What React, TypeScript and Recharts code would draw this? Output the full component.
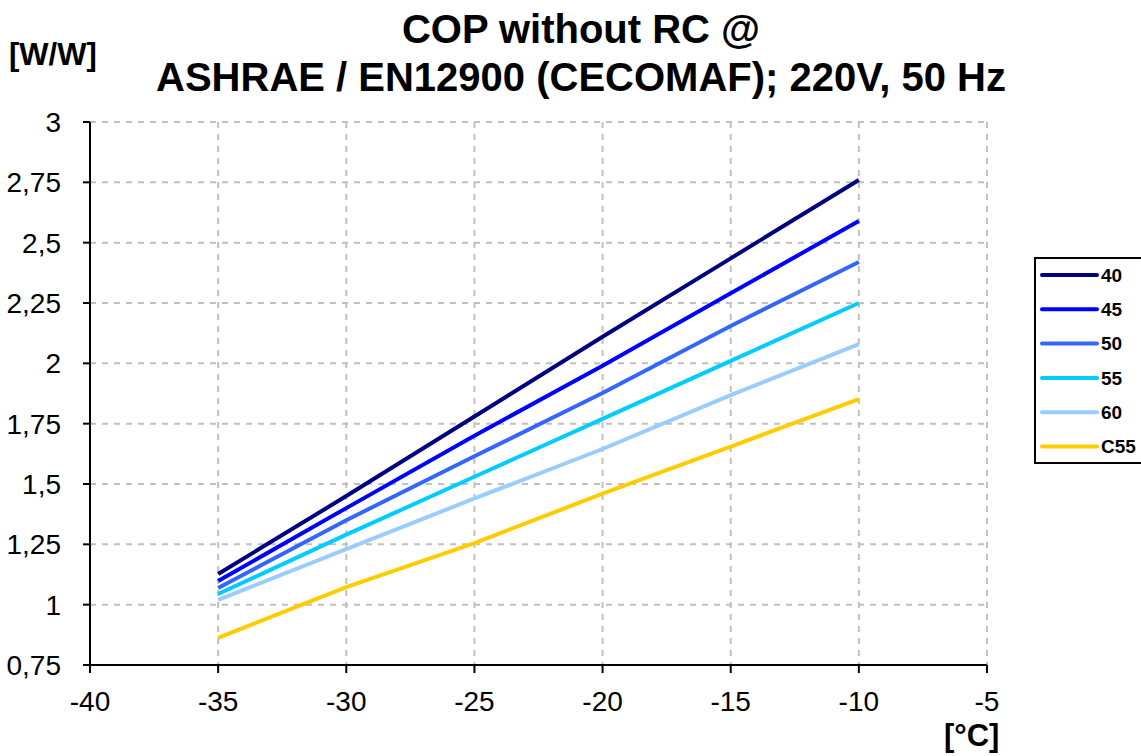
import React from "react"
import { LineChart, Line, XAxis, YAxis, CartesianGrid } from "recharts"

const temps = [-35, -30, -25, -20, -15, -10]
const cop40 = [1.127, 1.45, 1.78, 2.11, 2.435, 2.76]
const cop45 = [1.098, 1.4, 1.7, 1.99, 2.29, 2.59]
const cop50 = [1.069, 1.35, 1.615, 1.877, 2.155, 2.42]
const cop55 = [1.044, 1.29, 1.53, 1.77, 2.01, 2.25]
const cop60 = [1.02, 1.23, 1.44, 1.645, 1.868, 2.08]
const copC55 = [0.862, 1.073, 1.255, 1.46, 1.655, 1.852]

const seriesNames = ["40", "45", "50", "55", "60", "C55"]
const seriesColors = ["#000080", "#0000ff", "#3366ff", "#00ccff", "#99ccff", "#ffcc00"]
const seriesValues = [cop40, cop45, cop50, cop55, cop60, copC55]

const xTicks = [-40, -35, -30, -25, -20, -15, -10, -5]
const yTicks = [0.75, 1, 1.25, 1.5, 1.75, 2, 2.25, 2.5, 2.75, 3]

const data = temps.map((t, i) => {
  const row: Record<string, number> = { t }
  seriesNames.forEach((n, k) => (row[n] = seriesValues[k][i]))
  return row
})

const FONT = "'Liberation Sans', Arial, sans-serif"

// legend drawn beside the plot, like the excel one (box runs off the right edge)
const LegendBox = () => (
  <svg width={110} height={210} style={{ position: "absolute", left: 1034, top: 257 }}>
    <rect x={1} y={1} width={120} height={205} fill="#fff" stroke="#000" strokeWidth={2} />
    {seriesNames.map((n, i) => (
      <g key={n}>
        <line x1={8} x2={63} y1={18 + i * 34.3} y2={18 + i * 34.3} stroke={seriesColors[i]} strokeWidth={4} strokeLinecap="round" />
        <text x={67} y={18 + i * 34.3} dy="0.36em" fontSize={19} fontWeight="bold" fontFamily={FONT} fill="#000">
          {n}
        </text>
      </g>
    ))}
  </svg>
)

export default function App() {
  return (
    <div style={{ position: "absolute", left: 0, top: 0, width: 1141, height: 756, background: "#fff", fontFamily: FONT }}>
      <LineChart width={1141} height={756} data={data} margin={{ top: 122, right: 154, left: 10, bottom: 51 }}>
        <CartesianGrid stroke="#c0c0c0" strokeWidth={2} strokeDasharray="6 6" />
        <XAxis
          dataKey="t"
          type="number"
          domain={[-40, -5]}
          ticks={xTicks}
          height={40}
          tickSize={8}
          tickMargin={18}
          axisLine={{ stroke: "#000", strokeWidth: 2 }}
          tickLine={{ stroke: "#000", strokeWidth: 2 }}
          tick={{ fill: "#000", fontSize: 28, fontFamily: FONT }}
        />
        <YAxis
          type="number"
          domain={[0.75, 3]}
          ticks={yTicks}
          width={80}
          tickSize={7}
          tickMargin={22}
          axisLine={{ stroke: "#000", strokeWidth: 2 }}
          tickLine={{ stroke: "#000", strokeWidth: 2 }}
          tick={{ fill: "#000", fontSize: 28, fontFamily: FONT }}
          tickFormatter={(v: number) => String(v).replace(".", ",")}
        />
        {seriesNames.map((n, k) => (
          <Line
            key={n}
            dataKey={n}
            name={n}
            stroke={seriesColors[k]}
            strokeWidth={4}
            dot={false}
            activeDot={false}
            isAnimationActive={false}
          />
        ))}
      </LineChart>
      <div style={{ position: "absolute", left: 0, width: 1162, top: 5, textAlign: "center", fontSize: 40, fontWeight: "bold", lineHeight: "48px" }}>
        COP without RC @<br />ASHRAE / EN12900 (CECOMAF); 220V, 50 Hz
      </div>
      <div style={{ position: "absolute", left: 9, top: 37, fontSize: 31, fontWeight: "bold" }}>[W/W]</div>
      <div style={{ position: "absolute", left: 944, top: 719, fontSize: 31, fontWeight: "bold", lineHeight: "34px" }}>[°C]</div>
      <LegendBox />
    </div>
  )
}
